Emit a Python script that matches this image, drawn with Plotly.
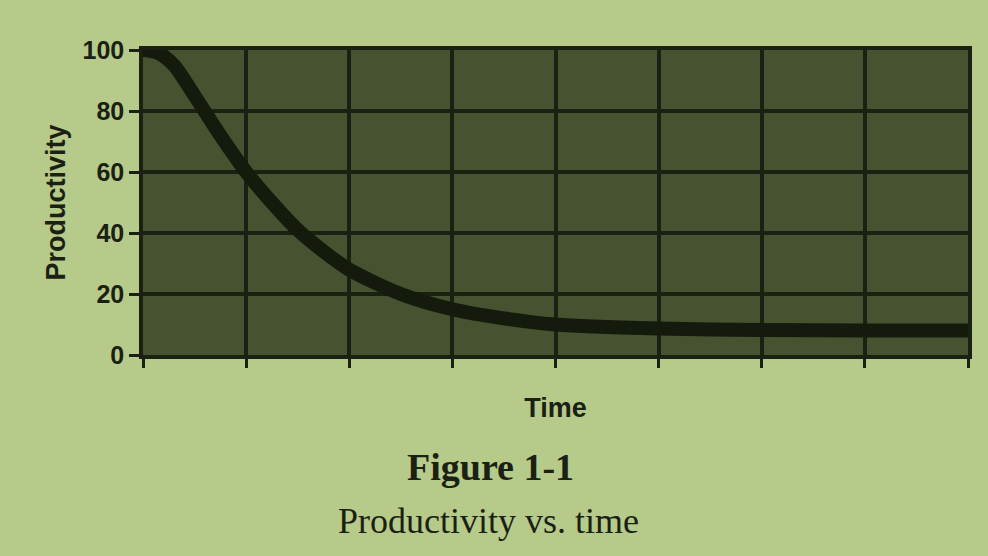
import plotly.graph_objects as go

time = [0, 0.15, 0.3, 0.5, 0.75, 1, 1.25, 1.5, 1.75, 2, 2.5, 3, 3.5, 4, 5, 6, 7, 8]
productivity = [100, 99, 95, 85, 72, 60, 50, 41, 34, 28, 20, 15, 12, 10, 8.7, 8.2, 8, 8]
y_ticks = [0, 20, 40, 60, 80, 100]

INK = "#1b2112"
W, H = 988, 556
ML, MR, MT, MB = 143, 20, 50, 201
plot_w, plot_h = W - ML - MR, H - MT - MB


def px_to_paper(xp, yp):
    return (xp - ML) / plot_w, (MT + plot_h - yp) / plot_h


fig = go.Figure()
fig.add_trace(go.Scatter(x=time, y=productivity, mode="lines",
                         line=dict(color="#141a0c", width=14, shape="spline", smoothing=0.8),
                         hoverinfo="skip"))

fx, fy = px_to_paper(490, 467)
sx, sy = px_to_paper(488, 521)

fig.update_layout(
    width=W, height=H,
    margin=dict(l=ML, r=MR, t=MT, b=MB),
    paper_bgcolor="#b6ca8a",
    plot_bgcolor="#475330",
    showlegend=False,
    xaxis=dict(range=[0, 8], tickvals=list(range(9)), showticklabels=False,
               showgrid=True, gridcolor=INK, gridwidth=3.5,
               ticks="outside", ticklen=9, tickwidth=3, tickcolor=INK,
               showline=True, linecolor=INK, linewidth=3.5, mirror=True,
               zeroline=False,
               title=dict(text="<b>Time</b>", font=dict(family="Liberation Sans, Arial", size=27, color=INK),
                          standoff=32)),
    yaxis=dict(range=[0, 100], tickvals=y_ticks,
               ticktext=[f"<b>{v}</b>" for v in y_ticks],
               tickfont=dict(family="Liberation Sans Narrow, Liberation Sans, Arial", size=25, color=INK),
               showgrid=True, gridcolor=INK, gridwidth=3.5,
               ticks="outside", ticklen=10, tickwidth=3, tickcolor=INK,
               showline=True, linecolor=INK, linewidth=3.5, mirror=True,
               zeroline=False,
               title=dict(text="<b>Productivity</b>", font=dict(family="Liberation Sans, Arial", size=27, color=INK),
                          standoff=10)),
    annotations=[
        dict(text="<b>Figure 1-1</b>", x=fx, y=fy, xref="paper", yref="paper",
             xanchor="center", yanchor="middle",
             showarrow=False, font=dict(family="Liberation Serif, Times New Roman", size=38, color=INK)),
        dict(text="Productivity vs. time", x=sx, y=sy, xref="paper", yref="paper",
             xanchor="center", yanchor="middle",
             showarrow=False, font=dict(family="Liberation Serif, Times New Roman", size=36, color=INK)),
    ],
)

fig.write_html("out.html")
